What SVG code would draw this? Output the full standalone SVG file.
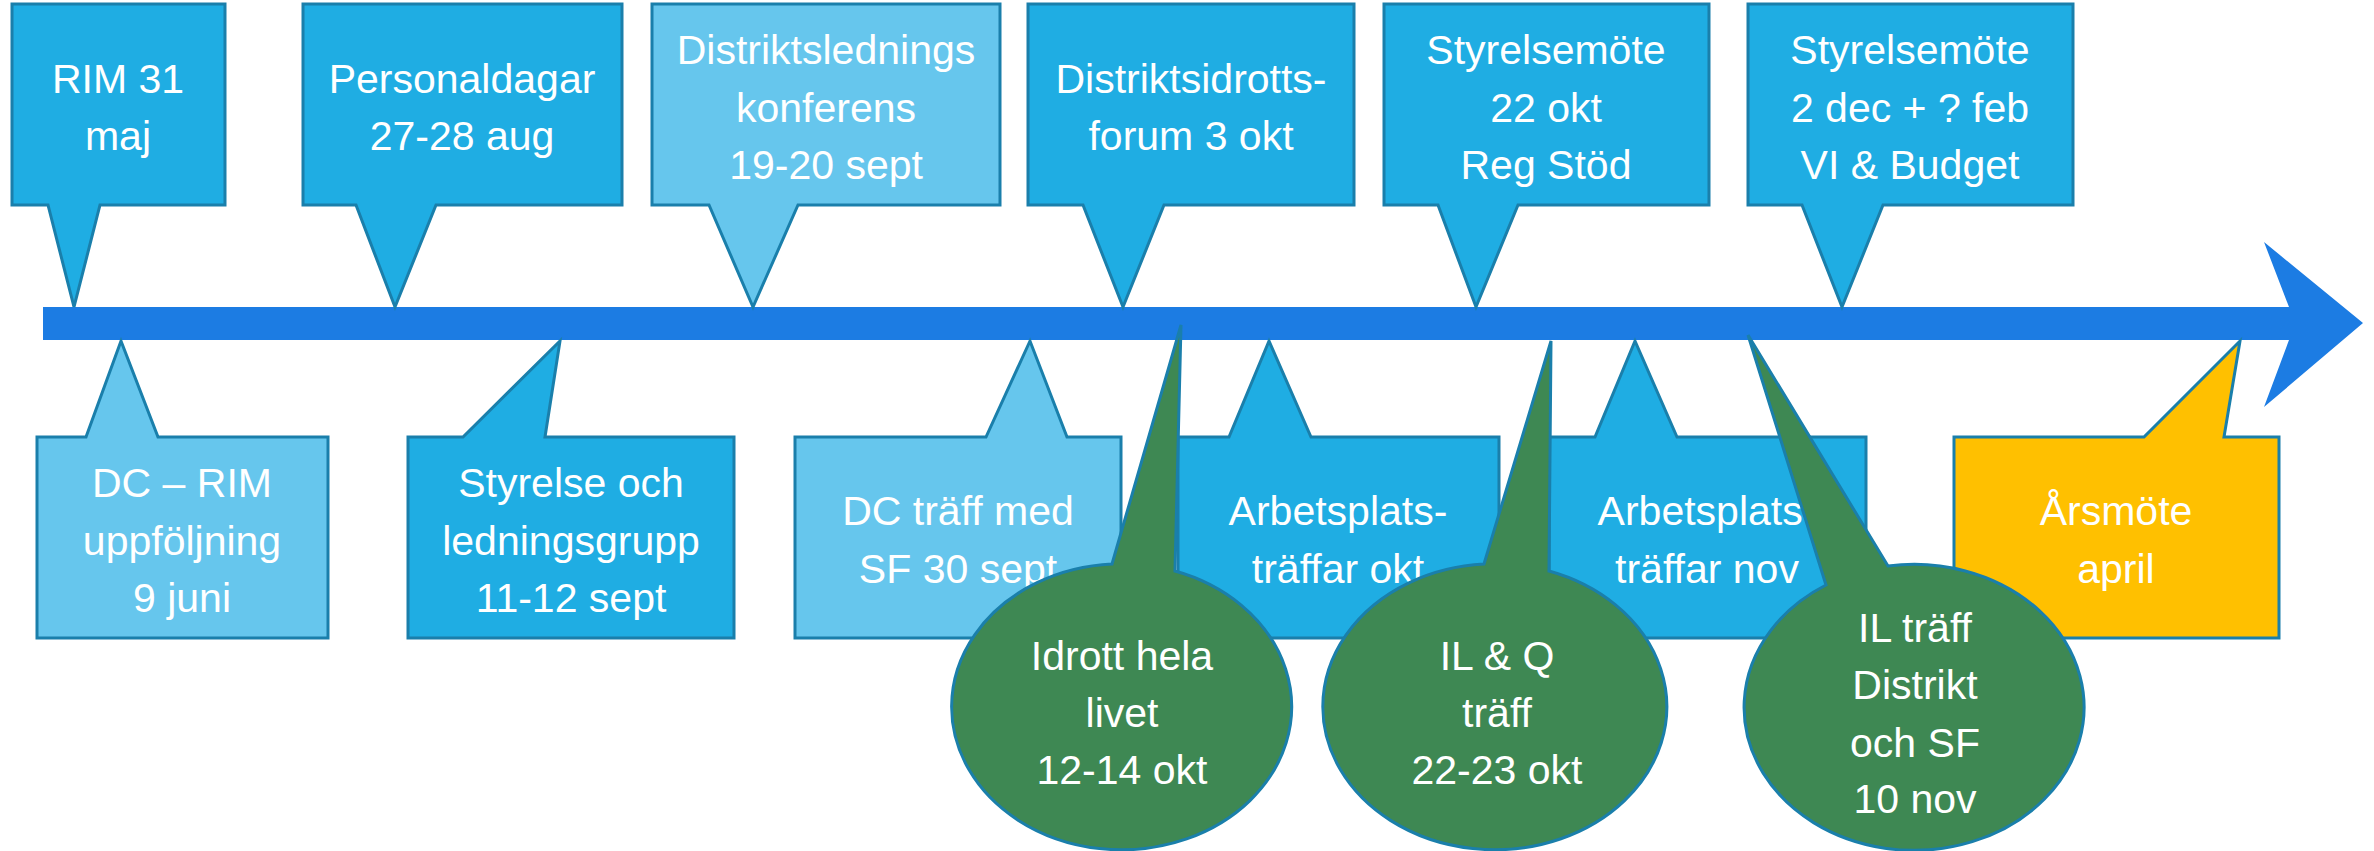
<svg xmlns="http://www.w3.org/2000/svg" width="2374" height="851" viewBox="0 0 2374 851">
<defs>
<style>
.c{stroke:#1A7FAB;stroke-width:3;stroke-linejoin:miter}
.mid{fill:#1FADE3}
.lt{fill:#66C6ED}
.yl{fill:#FFC000}
.gr{fill:#3E8853}
text{font-family:"Liberation Sans",Arial,sans-serif;font-size:41px;fill:#FFFFFF;text-anchor:middle}
</style>
</defs>
<rect width="2374" height="851" fill="#FFFFFF"/>
<g id="connectors">
<polygon id="timeline" points="43,307 2289,307 2264,242 2363,323 2264,407 2289,340 43,340" fill="#1C7CE3"/>
</g>
<g id="n1"><path class="c mid" d="M12,4 H225 V205 H100 L74,307 L48,205 H12 Z"/><text x="118" y="93">RIM 31</text><text x="118" y="150">maj</text></g>
<g id="n2"><path class="c mid" d="M303,4 H622 V205 H436 L395,307 L356,205 H303 Z"/><text x="462" y="93">Personaldagar</text><text x="462" y="150">27-28 aug</text></g>
<g id="n3"><path class="c lt" d="M652,4 H1000 V205 H798 L753,307 L709,205 H652 Z"/><text x="826" y="64">Distriktslednings</text><text x="826" y="122">konferens</text><text x="826" y="179">19-20 sept</text></g>
<g id="n4"><path class="c mid" d="M1028,4 H1354 V205 H1164 L1123,307 L1083,205 H1028 Z"/><text x="1191" y="93">Distriktsidrotts-</text><text x="1191" y="150">forum 3 okt</text></g>
<g id="n5"><path class="c mid" d="M1384,4 H1709 V205 H1518 L1476,307 L1438,205 H1384 Z"/><text x="1546" y="64">Styrelsemöte</text><text x="1546" y="122">22 okt</text><text x="1546" y="179">Reg Stöd</text></g>
<g id="n6"><path class="c mid" d="M1748,4 H2073 V205 H1883 L1842,307 L1802,205 H1748 Z"/><text x="1910" y="64">Styrelsemöte</text><text x="1910" y="122">2 dec + ? feb</text><text x="1910" y="179">VI &amp; Budget</text></g>
<g id="n7"><path class="c lt" d="M37,638 V437 H86 L121,341 L158,437 H328 V638 Z"/><text x="182" y="497">DC – RIM</text><text x="182" y="555">uppföljning</text><text x="182" y="612">9 juni</text></g>
<g id="n8"><path class="c mid" d="M408,638 V437 H463 L560,341 L545,437 H734 V638 Z"/><text x="571" y="497">Styrelse och</text><text x="571" y="555">ledningsgrupp</text><text x="571" y="612">11-12 sept</text></g>
<g id="n9"><path class="c lt" d="M795,638 V437 H986 L1030,341 L1067,437 H1121 V638 Z"/><text x="958" y="525">DC träff med</text><text x="958" y="583">SF 30 sept</text></g>
<g id="n10"><path class="c mid" d="M1178,638 V437 H1229 L1269,341 L1311,437 H1499 V638 Z"/><text x="1338" y="525">Arbetsplats-</text><text x="1338" y="583">träffar okt</text></g>
<g id="n11"><path class="c mid" d="M1549,638 V437 H1595 L1635,341 L1677,437 H1866 V638 Z"/><text x="1707" y="525">Arbetsplats-</text><text x="1707" y="583">träffar nov</text></g>
<g id="n12"><path class="c yl" d="M1954,638 V437 H2144 L2240,341 L2224,437 H2279 V638 Z"/><text x="2116" y="525">Årsmöte</text><text x="2116" y="583">april</text></g>
<g id="n13"><path class="c gr" d="M1112,564 L1181,325 L1175,571 A170,143 0 1 1 1112,564 Z"/><text x="1122" y="670">Idrott hela</text><text x="1122" y="727">livet</text><text x="1122" y="784">12-14 okt</text></g>
<g id="n14"><path class="c gr" d="M1484,564 L1551,341 L1549,571 A172,143 0 1 1 1484,564 Z"/><text x="1497" y="670">IL &amp; Q</text><text x="1497" y="727">träff</text><text x="1497" y="784">22-23 okt</text></g>
<g id="n15"><path class="c gr" d="M1826,585 L1748,335 L1888,566 A170,143 0 1 1 1826,585 Z"/><text x="1915" y="642">IL träff</text><text x="1915" y="699">Distrikt</text><text x="1915" y="757">och SF</text><text x="1915" y="813">10 nov</text></g>
</svg>
